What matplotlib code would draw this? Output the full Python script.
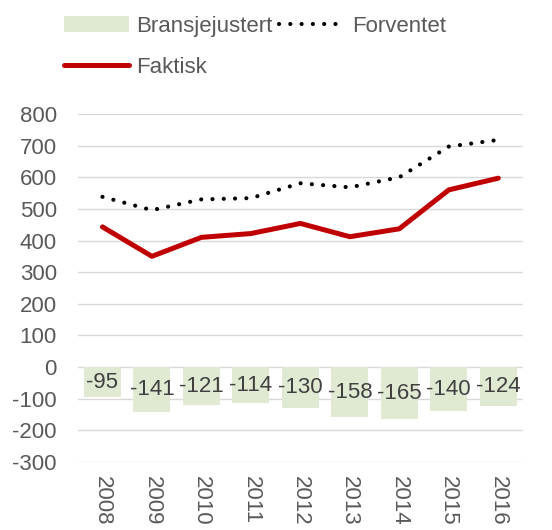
import matplotlib.pyplot as plt
import numpy as np

plt.rcParams['font.family'] = ['Liberation Sans', 'DejaVu Sans']
plt.rcParams['axes.unicode_minus'] = False

# data
aar = ['2008', '2009', '2010', '2011', '2012', '2013', '2014', '2015', '2016']
bransjejustert = [-95, -141, -121, -114, -130, -158, -165, -140, -124]
forventet = [538, 496, 530, 534, 581, 568, 600, 697, 718]
faktisk = [443, 350, 410, 422, 454, 412, 437, 560, 597]

tekstfarge = '#595959'

fig = plt.figure(figsize=(5.52, 5.30), dpi=100)
ax = fig.add_axes([0.1408, 0.1283, 0.8067, 0.6567])

x = np.arange(len(aar))

# stolper for bransjejustert
stolper = ax.bar(x, bransjejustert, width=0.75, color='#e0e9d2', zorder=2,
                 label='Bransjejustert')
ax.bar_label(stolper, labels=[str(v) for v in bransjejustert],
             label_type='center', fontsize=16, color='#404040')

# linjene
l_fakt, = ax.plot(x, faktisk, color='#c00000', linewidth=3.6,
                  solid_capstyle='round', zorder=3, label='Faktisk')
l_forv, = ax.plot(x, forventet, color='black', linewidth=3.0,
                  linestyle=(0, (0.01, 2.7)), dash_capstyle='round',
                  zorder=3, label='Forventet')

ax.set_xlim(-0.5, len(aar) - 0.5)
ax.set_ylim(-300, 800)
ax.set_yticks(np.arange(-300, 801, 100))
ax.set_xticks(x)
ax.set_xticklabels(aar, rotation=270, fontsize=16, color=tekstfarge)
ax.tick_params(axis='y', labelsize=16, labelcolor=tekstfarge, length=0, pad=15)
ax.tick_params(axis='x', length=0, pad=10)

ax.grid(axis='y', color='#d9d9d9', linewidth=1.0, zorder=0)
ax.set_axisbelow(True)
for s in ax.spines.values():
    s.set_visible(False)

fig.legend(handles=[stolper, l_fakt, l_forv], ncol=2, frameon=False,
           loc='upper left', bbox_to_anchor=(0.08, 1.008),
           fontsize=16, labelcolor=tekstfarge, handlelength=2.9,
           handletextpad=0.35, columnspacing=0.3, labelspacing=0.9,
           handleheight=0.7)

plt.savefig('out.png', dpi=100)
